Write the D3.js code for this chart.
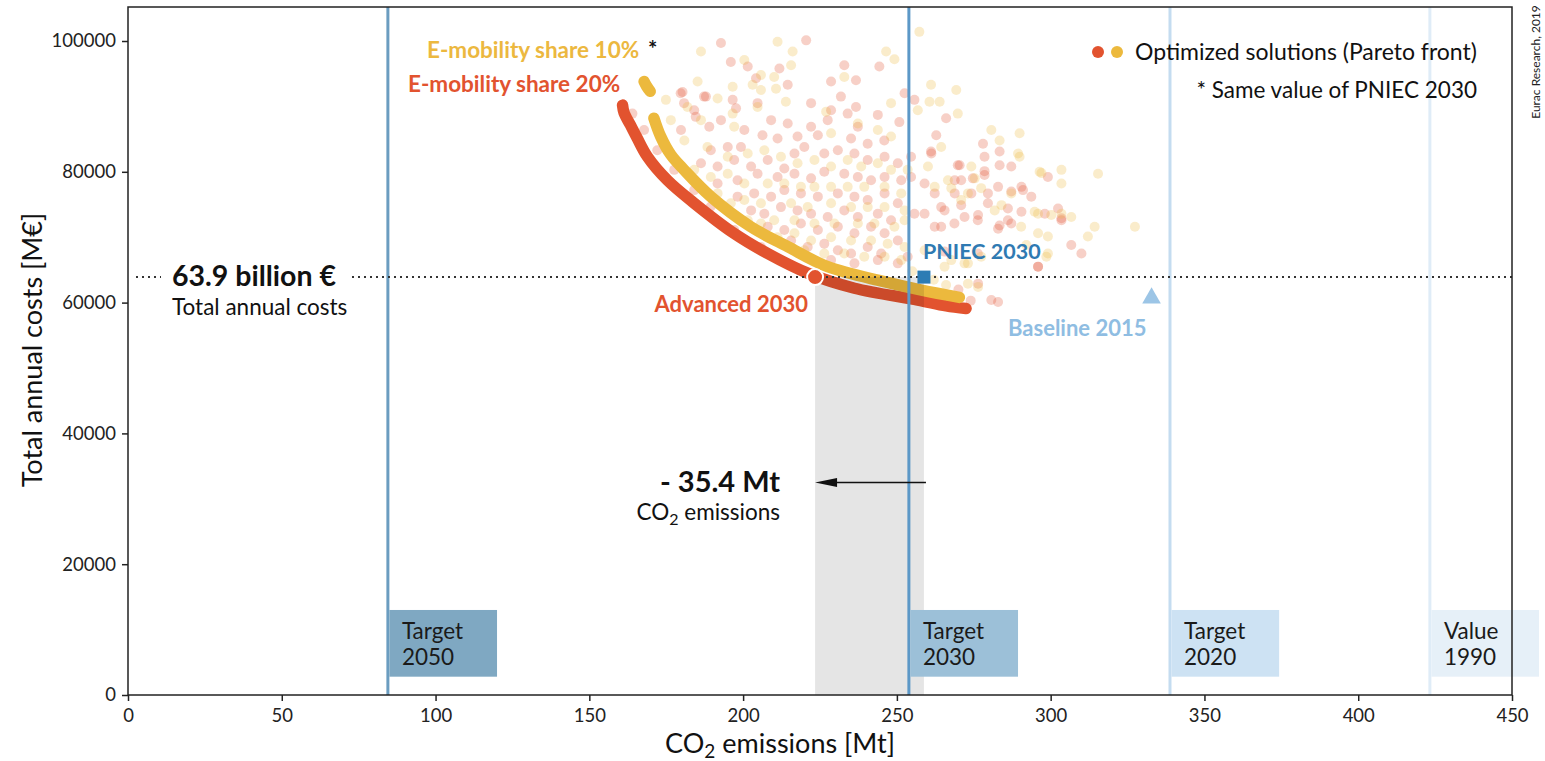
<!DOCTYPE html>
<html><head><meta charset="utf-8">
<script src="https://cdn.jsdelivr.net/npm/d3@7"></script>
<style>body{margin:0;background:#fff}svg{display:block}text{font-family:Lato,"Open Sans",sans-serif}</style>
</head><body>
<svg id="c" width="1545" height="761"></svg>
<script>
// ---------- DATA ----------
const xTicks = [0,50,100,150,200,250,300,350,400,450];
const yTicks = [0,20000,40000,60000,80000,100000];
const targetNames = ["Target 2050","Target 2030","Target 2020","Value 1990"];
const targetValues = [84.5, 253.9, 338.8, 423.3];
const advanced = [223.4, 63900];
const pniec = [258.8, 63900];
const baseline = [332.8, 60700];
const costLevel = 63900;
const reduction = 35.4;
const arrowY = 32500;
const redFront = [[160.8,90200],[161.3,89000],[163.3,87200],[165.5,85200],[168.9,82300],[175.4,78700],[184.1,75200],[197.0,70600],[208.0,67500],[221.0,64500],[236.2,62200],[256.8,60400],[266,59500],[272.5,59100]];
const yellowFrontTop = [[167.8,93800],[168.6,93100],[169.8,92300]];
const yellowFront = [[171.0,88200],[173.2,85400],[176.5,82600],[180.8,80300],[189.5,76200],[202.5,71600],[214.5,68550],[227.5,65500],[245.9,63200],[258.0,61900],[270.3,60800]];
const pinkCloud = [[192.8,99700],[220.5,100100],[196.0,96800],[201.5,96100],[211.8,95800],[232.9,96300],[244.3,96100],[204.2,94300],[228.6,93800],[236.7,94000],[214.5,93300],[180.3,92200],[187.9,91500],[196.6,91000],[204.7,90500],[222.1,90500],[231.8,91500],[252.5,92000],[255.7,91000],[197.7,89700],[228.6,89400],[234.0,88900],[236.7,89900],[243.8,88700],[250.8,87600],[184.6,88400],[192.8,87900],[209.1,87900],[214.5,87400],[222.1,86900],[227.5,87900],[237.3,86900],[179.8,86400],[189.0,86900],[200.4,86400],[206.3,85600],[211.2,85100],[217.7,85400],[224.3,85600],[235.1,85100],[240.5,84300],[245.9,84800],[266.0,88200],[262.8,85600],[261.1,83100],[269.8,81000],[278.5,82300],[283.4,83100],[287.2,80800],[291.0,77200],[299.1,79200],[303.5,72600],[310.0,67500],[306.7,68800],[283.4,71800],[286.1,72600],[278.0,84300],[270.9,78700],[278.5,79500],[274.2,76700],[279.6,76700],[264.4,74600],[268.7,72100],[259.0,73600],[272.0,73100],[276.3,72600],[264.4,71600],[189.5,83300],[195.0,83800],[199.3,83800],[186.3,81300],[191.7,80800],[197.1,81800],[202.6,80800],[208.0,81800],[213.4,80500],[216.7,82800],[219.9,83800],[226.4,82800],[230.8,83300],[236.2,82800],[240.5,81800],[246.0,82300],[250.3,81300],[254.6,82300],[259.0,78200],[254.6,79200],[251.4,78700],[191.7,78200],[198.2,78700],[204.7,79700],[211.2,79200],[216.7,79700],[222.1,79000],[226.4,80000],[232.9,79700],[237.3,79200],[241.6,78700],[246.0,79200],[198.2,76200],[203.6,76700],[209.1,76200],[213.4,77200],[218.8,76700],[224.3,76200],[230.8,76700],[236.2,76200],[240.5,75700],[246.0,76700],[250.3,75200],[202.6,74100],[206.9,73600],[212.3,74600],[217.7,74100],[222.1,73600],[227.5,73100],[232.9,74100],[237.3,73100],[243.8,73600],[248.1,72600],[208.0,71600],[213.4,71100],[218.8,72100],[224.3,71100],[230.8,71600],[236.2,70600],[241.6,71600],[246.0,70600],[250.3,69500],[215.6,69500],[221.0,68500],[226.4,69000],[230.8,68000],[235.1,67500],[240.5,68500],[244.9,67500],[228.6,66500],[236.2,66000],[243.8,66500],[250.3,66000],[253.5,67000],[276.3,67500],[295.9,65500],[261.2,82800],[270.4,81000],[278.5,80100],[283.4,81000],[268.8,78700],[274.7,79000],[282.9,77700],[290.5,77700],[293.7,76200],[287.2,77000],[262.3,76700],[265.5,74100],[270.9,74900],[276.4,73400],[279.6,75200],[286.1,74400],[290.5,73900],[298.1,73600],[303.5,72900],[302.4,74400],[282.9,71300],[287.2,72100],[295.9,65500],[276.4,62900],[280.7,60400],[282.9,60100],[265.5,67800],[262.3,71600],[255.7,73600],[268.8,76700],[164.0,88900],[167.8,86400],[172.1,83300],[177.6,80300],[184.1,77200],[189.5,74700],[197.1,71100],[205.8,68500],[179.7,92000],[180.8,90500],[187.3,91500],[184.1,89400],[266,61000],[270,62000],[274,60300]];
const yellowCloud = [[186.3,98400],[211.2,99900],[216.1,98400],[246.5,98400],[249.2,97200],[257.3,101400],[200.4,97100],[215.6,96300],[205.8,94800],[210.1,94500],[232.9,94500],[185.2,93800],[196.6,93000],[203.1,93300],[210.7,92700],[261.1,93300],[269.3,92500],[191.7,91200],[205.8,92500],[213.9,90700],[174.9,91000],[181.9,89900],[196.6,88900],[204.7,89900],[227.0,89200],[237.3,87400],[248.1,90500],[256.8,89400],[260.6,90700],[263.9,90700],[269.8,88900],[176.5,87900],[186.3,87900],[197.1,86900],[228.6,85900],[243.8,86400],[248.1,85400],[280.7,86400],[283.4,84800],[289.9,85900],[289.4,82800],[274.2,80800],[296.4,80000],[303.5,80300],[303.5,78200],[315.4,79700],[314.3,71600],[312.1,70100],[264.4,83800],[260.1,80800],[266.6,78700],[270.9,75700],[281.8,74100],[290.4,71600],[295.9,70600],[299.1,67500],[295.9,73600],[303.5,73600],[306.7,73100],[180.9,84800],[188.4,83800],[195.0,82300],[201.5,82800],[206.9,83300],[212.3,82300],[217.7,81300],[223.2,81800],[228.6,80800],[234.0,81800],[238.4,80800],[243.8,81300],[248.1,80300],[253.5,80300],[184.1,80300],[189.5,79200],[195.0,79700],[200.4,78200],[208.0,78200],[213.4,78200],[218.8,77700],[223.2,77700],[228.6,77700],[234.0,77700],[239.4,77700],[246.0,77700],[251.4,76700],[191.7,76700],[196.0,75200],[200.4,75700],[205.8,75200],[215.6,75200],[221.0,74600],[228.6,75200],[235.1,74600],[240.5,74600],[246.0,74600],[252.5,74100],[201.5,72600],[205.8,72100],[210.1,72600],[216.7,72600],[223.2,72100],[229.7,72100],[237.3,72100],[242.7,72100],[249.2,71600],[252.5,72600],[211.2,70000],[216.7,70600],[222.1,69500],[228.6,70000],[235.1,69500],[241.6,69500],[247.0,69000],[252.5,68500],[219.9,68000],[226.4,67500],[232.9,67500],[239.4,67000],[246.0,67000],[251.4,66500],[259.0,68000],[265.5,65500],[272.0,66000],[289.9,82300],[297.0,79800],[275.3,79000],[262.3,77700],[267.7,77500],[273.1,76700],[277.4,77500],[284.0,74900],[287.2,76700],[294.8,73900],[300.2,73400],[327.4,71600],[299.1,70100],[292.1,68800],[298.6,67000],[267.7,66500],[273.1,66000],[277.4,67000],[273.1,62900],[276.4,62400],[262,63500],[266,62700],[255,64800]];

// ---------- STYLES ----------
const RED = "#e2532f", YEL = "#ecb93d";
const lineColors = ["#6b9dc0","#5c98c7","#c4dcf0","#dfecf7"];
const boxColors  = ["#7fa8c2","#9cc0d8","#cde2f3","#e6f0f8"];

const svg = d3.select("#c");
const L=128, R=1512, T=7, B=695;
const x = d3.scaleLinear().domain([0,450]).range([L,R]);
const y = d3.scaleLinear().domain([0,105200]).range([B,T]);

const plot = svg.append("g");

// scatter cloud
plot.append("g").selectAll("circle").data(pinkCloud).join("circle")
  .attr("cx",d=>x(d[0])).attr("cy",d=>y(d[1])).attr("r",5)
  .attr("fill",RED).attr("fill-opacity",0.27);
plot.append("g").selectAll("circle").data(yellowCloud).join("circle")
  .attr("cx",d=>x(d[0])).attr("cy",d=>y(d[1])).attr("r",5)
  .attr("fill",YEL).attr("fill-opacity",0.27);

// Pareto fronts
const ln = d3.line().x(d=>x(d[0])).y(d=>y(d[1])).curve(d3.curveCatmullRom);
[[redFront,RED],[yellowFrontTop,YEL],[yellowFront,YEL]].forEach(([dat,col])=>{
  plot.append("path").attr("d",ln(dat)).attr("fill","none").attr("stroke",col)
    .attr("stroke-width",11.5).attr("stroke-linecap","round").attr("stroke-linejoin","round");
});

// grey band (advanced -> pniec)
plot.append("rect").attr("x",x(advanced[0])).attr("width",x(pniec[0])-x(advanced[0]))
  .attr("y",y(costLevel)).attr("height",y(0)-y(costLevel))
  .attr("fill","#000").attr("fill-opacity",0.1);

// target lines and boxes
targetNames.forEach((name,i)=>{
  const v = targetValues[i];
  plot.append("line").attr("x1",x(v)).attr("x2",x(v)).attr("y1",T).attr("y2",B)
    .attr("stroke",lineColors[i]).attr("stroke-width",3);
  plot.append("rect").attr("x",x(v)+1.5).attr("width",x(v+35)-x(v))
    .attr("y",y(13000)).attr("height",y(2800)-y(13000)).attr("fill",boxColors[i]);
  const parts = name.split(" ");
  const t = plot.append("text").attr("x",x(v)+14).attr("y",y(13000)+29)
    .attr("font-size",22.5).attr("fill","#1a1a1a");
  t.append("tspan").text(parts[0]);
  t.append("tspan").attr("x",x(v)+14).attr("dy",26).text(parts[1]);
});

// dotted cost line
plot.append("line").attr("x1",x(2.6)).attr("x2",x(450)).attr("y1",y(costLevel)).attr("y2",y(costLevel))
  .attr("stroke","#333").attr("stroke-width",2).attr("stroke-dasharray","2,4");
plot.append("rect").attr("x",161).attr("y",y(costLevel)-25).attr("width",189).attr("height",50).attr("fill","#fff");
svg.append("text").attr("x",172).attr("y",y(costLevel)+9).attr("font-size",28.5).attr("font-weight",700)
  .attr("fill","#111").text("63.9 billion €");
svg.append("text").attr("x",172).attr("y",y(costLevel)+38).attr("font-size",22.5)
  .attr("fill","#111").text("Total annual costs");

// axes frame
svg.append("rect").attr("x",L).attr("y",T).attr("width",R-L).attr("height",B-T)
  .attr("fill","none").attr("stroke","#222").attr("stroke-width",1.5);
const xa = svg.append("g").attr("transform",`translate(0,${B})`)
  .call(d3.axisBottom(x).tickValues(xTicks).tickSize(6).tickPadding(8).tickFormat(d3.format("d")));
const ya = svg.append("g").attr("transform",`translate(${L},0)`)
  .call(d3.axisLeft(y).tickValues(yTicks).tickSize(6).tickPadding(6).tickFormat(d3.format("d")));
[xa,ya].forEach(a=>{
  a.select(".domain").remove();
  a.selectAll(".tick line").attr("stroke","#222").attr("stroke-width",1.5);
  a.selectAll(".tick text").attr("font-size",18.5).attr("fill","#222").attr("font-family","Lato, sans-serif");
});

// arrow
svg.append("line").attr("x1",x(pniec[0])+2).attr("x2",x(advanced[0])+20).attr("y1",y(arrowY)).attr("y2",y(arrowY))
  .attr("stroke","#111").attr("stroke-width",1.6);
svg.append("path").attr("d",`M${x(advanced[0])},${y(arrowY)}L${x(advanced[0])+22},${y(arrowY)-4.5}L${x(advanced[0])+22},${y(arrowY)+4.5}Z`).attr("fill","#111");
svg.append("text").attr("x",780).attr("y",y(arrowY)+10).attr("text-anchor","end").attr("font-size",29)
  .attr("font-weight",700).attr("fill","#111").text("- 35.4 Mt");
const co = svg.append("text").attr("x",780).attr("y",y(arrowY)+38).attr("text-anchor","end").attr("font-size",22.5).attr("fill","#111");
co.append("tspan").text("CO");
co.append("tspan").attr("font-size",16).attr("dy",5).text("2");
co.append("tspan").attr("dy",-5).text(" emissions");

// markers
svg.append("circle").attr("cx",x(advanced[0])).attr("cy",y(advanced[1])).attr("r",8)
  .attr("fill",RED).attr("stroke","#fff").attr("stroke-width",2);
svg.append("rect").attr("x",x(pniec[0])-6.5).attr("y",y(pniec[1])-6.5).attr("width",13).attr("height",13).attr("fill","#2d7cb4");
svg.append("path").attr("d",d3.symbol().type(d3.symbolTriangle).size(150)())
  .attr("transform",`translate(${x(baseline[0])},${y(baseline[1])})`).attr("fill","#9cc5e6");

// labels
svg.append("text").attr("x",427).attr("y",58).attr("font-size",22.5).attr("font-weight",700).attr("fill","#ecb83f").text("E-mobility share 10%");
svg.append("text").attr("x",648).attr("y",57).attr("font-size",22).attr("font-weight",700).attr("fill","#111").text("*");
svg.append("text").attr("x",408).attr("y",92).attr("font-size",22.5).attr("font-weight",700).attr("fill",RED).text("E-mobility share 20%");
svg.append("text").attr("x",808).attr("y",312).attr("text-anchor","end").attr("font-size",22).attr("font-weight",700).attr("fill",RED).text("Advanced 2030");
svg.append("text").attr("x",923).attr("y",259).attr("font-size",21.5).attr("font-weight",700).attr("fill","#2f7ab2").text("PNIEC 2030");
svg.append("text").attr("x",1008).attr("y",336).attr("font-size",22).attr("font-weight",700).attr("fill","#8fbde2").text("Baseline 2015");

// legend
svg.append("circle").attr("cx",1098).attr("cy",52).attr("r",6).attr("fill",RED);
svg.append("circle").attr("cx",1117).attr("cy",52).attr("r",6).attr("fill",YEL);
svg.append("text").attr("x",1135).attr("y",60).attr("font-size",23).attr("fill","#111").text("Optimized solutions (Pareto front)");
svg.append("text").attr("x",1477).attr("y",98).attr("text-anchor","end").attr("font-size",22.5).attr("fill","#111").text("* Same value of PNIEC 2030");

// axis titles
svg.append("text").attr("transform","translate(42,350) rotate(-90)").attr("text-anchor","middle")
  .attr("font-size",27).attr("fill","#111").text("Total annual costs [M€]");
const xt = svg.append("text").attr("x",780).attr("y",753).attr("text-anchor","middle").attr("font-size",27).attr("fill","#111");
xt.append("tspan").text("CO");
xt.append("tspan").attr("font-size",19).attr("dy",5).text("2");
xt.append("tspan").attr("dy",-5).text(" emissions [Mt]");
svg.append("text").attr("transform","translate(1540,62) rotate(-90)").attr("text-anchor","middle")
  .attr("font-size",12).attr("fill","#222").text("Eurac Research, 2019");
</script>
</body></html>
